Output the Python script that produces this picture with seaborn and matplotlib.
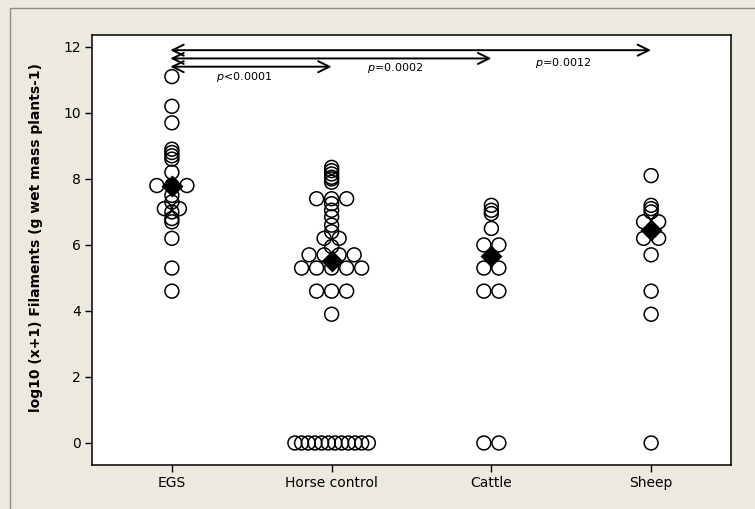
import numpy as np
import pandas as pd
import matplotlib.pyplot as plt
import seaborn as sns
from matplotlib.patches import Rectangle

# groups and values (log10(x+1) filaments)
groups = ["EGS", "Horse control", "Cattle", "Sheep"]
egs = [11.1, 10.2, 9.7, 8.9, 8.8, 8.7, 8.6, 8.2, 7.8, 7.8, 7.8, 7.5, 7.3,
       7.1, 7.1, 7.0, 6.8, 6.7, 6.2, 5.3, 4.6]
horse = [8.35, 8.25, 8.15, 8.05, 8.0, 7.9, 7.4, 7.4, 7.4, 7.25, 7.05, 6.85,
         6.6, 6.4, 6.2, 6.2, 5.95, 5.7, 5.7, 5.7, 5.7, 5.3, 5.3, 5.3, 5.3,
         5.3, 4.6, 4.6, 4.6, 3.9] + [0.0] * 12
cattle = [7.2, 7.05, 6.95, 6.5, 6.0, 6.0, 5.3, 5.3, 4.6, 4.6, 0.0, 0.0]
sheep = [8.1, 7.2, 7.1, 7.0, 6.7, 6.7, 6.2, 6.2, 5.7, 4.6, 3.9, 0.0]

# comparisons against EGS
comp_targets = ["Horse control", "Cattle", "Sheep"]
comp_labels = ["<0.0001", "=0.0002", "=0.0012"]

bg = "#ece9e1"


def tie_offsets(vals, step=0.094, width=0.46):
    # spread identical values sideways, like an individual value plot
    vals = np.asarray(vals)
    out = np.zeros(len(vals))
    for v in np.unique(vals):
        idx = np.where(vals == v)[0]
        k = len(idx)
        if k > 1:
            s = min(step, width / (k - 1))
            out[idx] = (np.arange(k) - (k - 1) / 2) * s
    return out


rows = []
for i, (g, vals) in enumerate(zip(groups, [egs, horse, cattle, sheep])):
    off = tie_offsets(vals)
    for v, o in zip(vals, off):
        rows.append({"group": g, "value": v, "xpos": i + o})
df = pd.DataFrame(rows)

sns.set_style("ticks")
plt.rcParams["font.family"] = ["DejaVu Sans"]
plt.rcParams["axes.edgecolor"] = "black"
plt.rcParams["axes.linewidth"] = 1.1
plt.rcParams["text.color"] = "black"
plt.rcParams["axes.labelcolor"] = "black"

fig = plt.figure(figsize=(7.55, 5.09), dpi=100, facecolor=bg)
ax = fig.add_axes([92 / 755, 44 / 509, 639 / 755, 430 / 509])
ax.set_facecolor("white")

sns.pointplot(data=df, x="group", y="value", order=groups, estimator="median",
              errorbar=None, markers="D", linestyle="none", color="black",
              markersize=9.5, ax=ax, zorder=5)
sns.scatterplot(data=df, x="xpos", y="value", marker="o", s=100, ax=ax,
                linewidth=1.1, zorder=3, legend=False)
pts = ax.collections[-1]
pts.set_facecolor("none")
pts.set_edgecolor("black")

ax.set_xlim(-0.5, 3.5)
ax.set_ylim(-0.667, 12.36)
ax.set_xticks(range(len(groups)))
ax.set_xticklabels(groups)
ax.set_yticks(np.arange(0, 13, 2))
ax.tick_params(axis="both", direction="out", length=5, width=1,
               labelsize=10, colors="black", pad=3)
ax.set_xlabel("")
ax.set_ylabel("log10 (x+1) Filaments (g wet mass plants-1)",
              fontsize=10, fontweight="bold", color="black")
ax.yaxis.set_label_coords(-0.077, 0.53)

# significance arrows from EGS
arrow_y = [11.4, 11.65, 11.9]
text_pos = [(0.45, 11.1), (1.4, 11.36), (2.45, 11.52)]
for tgt, lab, ay, (tx, ty) in zip(comp_targets, comp_labels, arrow_y, text_pos):
    ax.annotate("", xy=(groups.index(tgt), ay), xytext=(-0.01, ay),
                arrowprops=dict(arrowstyle="<->,head_length=0.45,head_width=0.22",
                                lw=1.4, color="black", shrinkA=0, shrinkB=0,
                                mutation_scale=18))
    ax.text(tx, ty, r"$\it{p}$" + lab, ha="center", va="center", fontsize=8,
            color="black")

# outer frame of the graph window
fig.patches.append(Rectangle((10 / 755, -0.1), 1.2, 1.1 - 8 / 509,
                             transform=fig.transFigure, fill=False,
                             edgecolor="#8c8c8c", lw=1))

fig.savefig("out.png", dpi=100, facecolor=bg)
